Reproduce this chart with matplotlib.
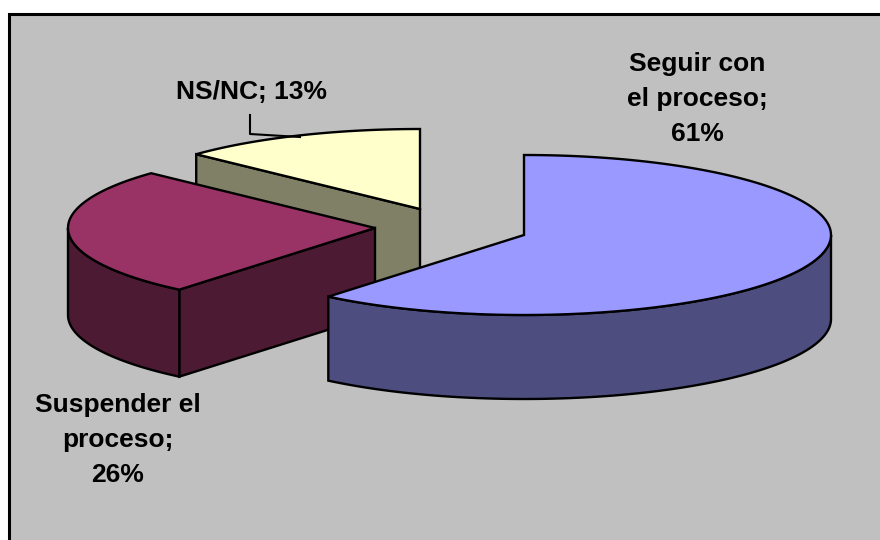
import numpy as np
import matplotlib
matplotlib.use('Agg')
import matplotlib.pyplot as plt
from matplotlib.patches import Polygon, Rectangle

labels = ['Seguir con\nel proceso;\n61%', 'Suspender el\nproceso;\n26%', 'NS/NC; 13%']
values = [61, 26, 13]
top_colors = ['#9999FF', '#993366', '#FFFFCC']
side_colors = ['#4D4D80', '#4D1A33', '#808066']
centers = [(524, 235), (375, 228), (420, 209)]
depths = [84, 87, 85]
label_pos = [(697, 99), (118, 440), (252, 92)]

RX = 307
RY = 80
LW = 1.7

plt.rcParams['font.family'] = ['Liberation Sans', 'DejaVu Sans']

fig = plt.figure(figsize=(8.8, 5.4), dpi=100, facecolor='white')
ax = fig.add_axes([0, 0, 1, 1])
ax.set_xlim(0, 880)
ax.set_ylim(540, 0)
ax.axis('off')

ax.add_patch(Rectangle((9, 14), 890, 550, facecolor='#C0C0C0', edgecolor='black', linewidth=2.2))


def rim(cx, cy, a0, a1):
    # angles in degrees, clockwise from 12 o'clock
    t = np.radians(np.linspace(a0, a1, 150))
    return np.column_stack([cx + RX * np.sin(t), cy - RY * np.cos(t)])


def draw_poly(pts, color, z):
    ax.add_patch(Polygon(pts, closed=True, facecolor=color, edgecolor='black',
                         linewidth=LW, joinstyle='miter', zorder=z))


fractions = np.array(values) / sum(values)
ends = np.cumsum(fractions) * 360
starts = ends - fractions * 360

# back slices first, so the exploded blue one sits on top
for i in [2, 1, 0]:
    cx, cy = centers[i]
    z = 5 - i
    down = np.array([0, depths[i]])
    arc = rim(cx, cy, starts[i], ends[i])

    # cut face on the start side, only seen for slices left of the bottom
    if 180 < starts[i] < 360:
        p = arc[0]
        draw_poly([(cx, cy), p, p + down, (cx, cy + depths[i])], side_colors[i], z)

    # front wall of the rim (lower half of the ellipse only)
    a0 = max(starts[i], 90)
    a1 = min(ends[i], 270)
    if a0 < a1:
        wall = rim(cx, cy, a0, a1)
        draw_poly(np.vstack([wall, wall[::-1] + down]), side_colors[i], z)

    draw_poly(np.vstack([[(cx, cy)], arc]), top_colors[i], z)

# leader line for the small slice
ax.plot([250, 250, 300], [115, 134, 137], color='black', linewidth=1.5, zorder=6)

for txt, (x, y) in zip(labels, label_pos):
    ax.text(x, y, txt, ha='center', va='center', fontsize=19, fontweight='bold',
            color='black', linespacing=1.57, zorder=7)

fig.savefig('out.png', dpi=100, facecolor='white')
